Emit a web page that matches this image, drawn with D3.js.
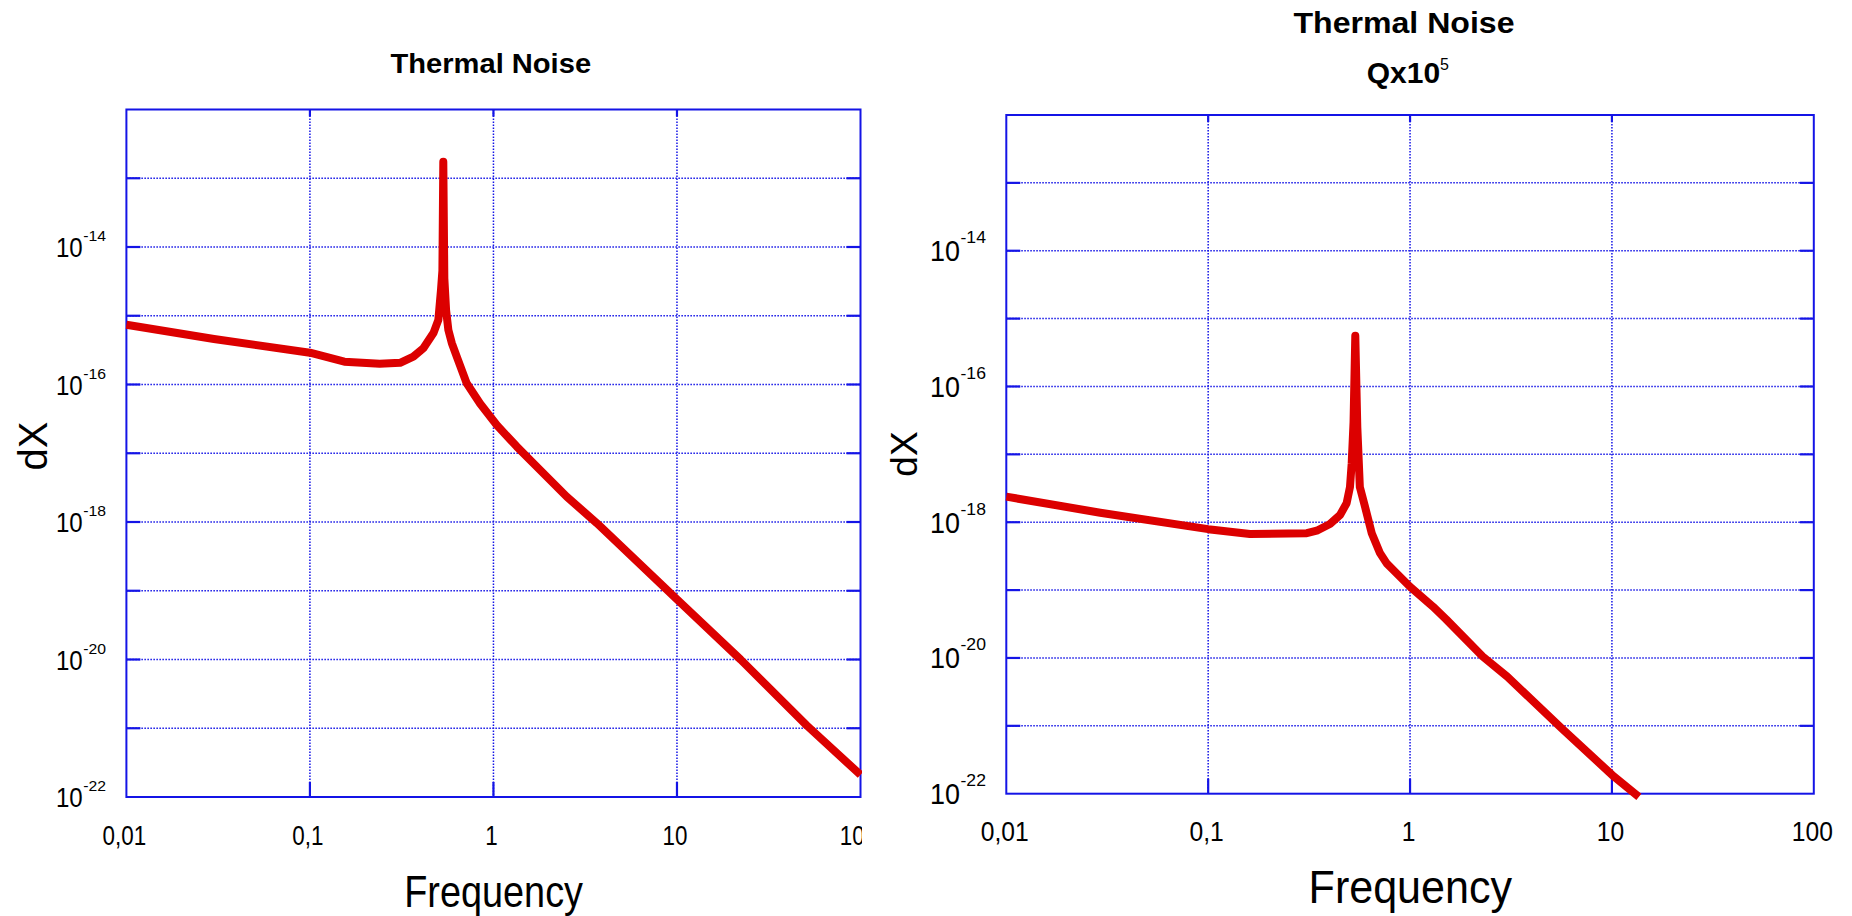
<!DOCTYPE html>
<html>
<head>
<meta charset="utf-8">
<script src="https://cdn.jsdelivr.net/npm/d3@7"></script>
<style>
body { margin: 0; background: #fff; }
svg { display: block; }
</style>
</head>
<body>
<script>
// thermal noise, Q normal (left panel)
var leftFreq = [0.01, 0.03, 0.1, 0.154, 0.24, 0.31, 0.366, 0.415, 0.471, 0.501, 0.518, 0.527, 0.533,
	0.540, 0.552, 0.568, 0.593, 0.631, 0.715, 0.845, 1.042, 1.34, 1.795, 2.51, 3.66, 10, 22.2, 50.9, 100];
var leftDX = [7.4e-16, 4.6e-16, 2.9e-16, 2.15e-16, 2.0e-16, 2.07e-16, 2.54e-16, 3.37e-16, 5.6e-16, 8.7e-16, 2.4e-15, 4.5e-15, 1.74e-13,
	3.5e-15, 1.2e-15, 6.2e-16, 4.0e-16, 2.54e-16, 1.04e-16, 5.3e-17, 2.58e-17, 1.25e-17, 5.7e-18, 2.33e-18, 9.6e-19, 7.5e-20, 1.0e-20, 1.1e-21, 2.1e-22];

// thermal noise, Q x 10^5 (right panel)
var rightFreq = [0.01, 0.0292, 0.1, 0.161, 0.308, 0.345, 0.401, 0.45, 0.485, 0.504, 0.514, 0.525, 0.5355,
	0.548, 0.564, 0.598, 0.646, 0.710, 0.766, 0.826, 1.0, 1.30, 1.51, 2.29, 3.03, 5.64, 10, 13.6];
var rightDX = [2.38e-18, 1.38e-18, 7.9e-19, 6.7e-19, 6.9e-19, 7.5e-19, 9.4e-19, 1.28e-18, 1.9e-18, 3.3e-18, 7.4e-18, 3.0e-17, 5.6e-16,
	2.5e-17, 3.3e-18, 1.7e-18, 6.9e-19, 3.5e-19, 2.48e-19, 1.98e-19, 1.12e-19, 5.7e-20, 3.7e-20, 1.05e-20, 5.3e-21, 9.2e-22, 1.9e-22, 9.0e-23];

var xTickValues = [0.01, 0.1, 1, 10, 100];
var xTickLabels = ["0,01", "0,1", "1", "10", "100"];
var yGridExps = [-22, -21, -20, -19, -18, -17, -16, -15, -14, -13, -12];
var yLabelExps = [-14, -16, -18, -20, -22];

var W = 1852, H = 916;
var FONT = "Liberation Sans, Arial, sans-serif";
var BLUE = "#1414e6";
var RED = "#dc0000";

var svg = d3.select("body").append("svg")
	.attr("width", W)
	.attr("height", H);

function label(g, str, x, y, size, sx, anchor, weight) {
	return g.append("text")
		.attr("transform", "translate(" + x + "," + y + ") scale(" + sx + ",1)")
		.attr("text-anchor", anchor || "middle")
		.attr("font-family", FONT)
		.attr("font-size", size)
		.attr("font-weight", weight || "normal")
		.attr("fill", "#000")
		.text(str);
}

var panels = [
	{
		id: "left", freq: leftFreq, dx: leftDX,
		left: 126.4, right: 860.5, top: 109.5, bottom: 797, clipRight: 862,
		xLab: { size: 27, sx: 0.83, y: 845, shift: -2 },
		yLab: { size: 28, sx: 0.86, gap: 43.7, base: 10.3, supSize: 15, supSx: 1.05, supBase: -6 },
		freqLab: { x: 493.6, y: 906.7, size: 44, sx: 0.86 },
		dxLab: { x: 46.7, y: 446, size: 40 }
	},
	{
		id: "right", freq: rightFreq, dx: rightDX,
		left: 1006.3, right: 1813.8, top: 115, bottom: 793.7, clipRight: W,
		xLab: { size: 28, sx: 0.88, y: 841, shift: -1.5 },
		yLab: { size: 29, sx: 0.93, gap: 46.3, base: 10.5, supSize: 16, supSx: 1.1, supBase: -7.5 },
		freqLab: { x: 1410.3, y: 903, size: 46, sx: 0.936 },
		dxLab: { x: 916.7, y: 454, size: 37 }
	}
];

panels.forEach(function(p) {
	svg.append("clipPath").attr("id", "clip-" + p.id)
		.append("rect").attr("x", 0).attr("y", 0).attr("width", p.clipRight).attr("height", H);

	var g = svg.append("g").attr("clip-path", "url(#clip-" + p.id + ")");

	var x = d3.scaleLog().domain([0.01, 100]).range([p.left, p.right]);
	var y = d3.scaleLog().domain([1e-22, 1e-12]).range([p.bottom, p.top]);

	// dotted grid
	g.selectAll(".vgrid")
		.data(xTickValues.slice(1, -1))
		.enter().append("line")
		.attr("x1", function(d) { return x(d); })
		.attr("x2", function(d) { return x(d); })
		.attr("y1", p.top)
		.attr("y2", p.bottom)
		.attr("stroke", BLUE)
		.attr("stroke-width", 1.5)
		.attr("stroke-dasharray", "1.5,1.5");
	g.selectAll(".hgrid")
		.data(yGridExps.slice(1, -1))
		.enter().append("line")
		.attr("x1", p.left)
		.attr("x2", p.right)
		.attr("y1", function(d) { return y(Math.pow(10, d)); })
		.attr("y2", function(d) { return y(Math.pow(10, d)); })
		.attr("stroke", BLUE)
		.attr("stroke-width", 1.5)
		.attr("stroke-dasharray", "1.5,1.5");

	// inward tick marks
	var tk = g.append("g").attr("stroke", BLUE).attr("stroke-width", 2.2);
	yGridExps.slice(1, -1).forEach(function(e) {
		var yy = y(Math.pow(10, e));
		tk.append("line").attr("x1", p.left).attr("x2", p.left + 14).attr("y1", yy).attr("y2", yy);
		tk.append("line").attr("x1", p.right - 14).attr("x2", p.right).attr("y1", yy).attr("y2", yy);
	});
	xTickValues.slice(1, -1).forEach(function(v) {
		var xx = x(v);
		tk.append("line").attr("x1", xx).attr("x2", xx).attr("y1", p.bottom - 15).attr("y2", p.bottom);
		tk.append("line").attr("x1", xx).attr("x2", xx).attr("y1", p.top).attr("y2", p.top + 7);
	});

	// frame
	g.append("rect")
		.attr("x", p.left)
		.attr("y", p.top)
		.attr("width", p.right - p.left)
		.attr("height", p.bottom - p.top)
		.attr("fill", "none")
		.attr("stroke", BLUE)
		.attr("stroke-width", 2);

	// the curve
	var pts = p.freq.map(function(f, i) { return [f, p.dx[i]]; });
	var line = d3.line()
		.x(function(d) { return x(d[0]); })
		.y(function(d) { return y(d[1]); });
	g.append("path")
		.datum(pts)
		.attr("d", line)
		.attr("fill", "none")
		.attr("stroke", RED)
		.attr("stroke-width", 8)
		.attr("stroke-linejoin", "round");

	// x tick labels
	xTickValues.forEach(function(v, i) {
		label(g, xTickLabels[i], x(v) + p.xLab.shift, p.xLab.y, p.xLab.size, p.xLab.sx, "middle");
	});

	// y tick labels 10^n
	yLabelExps.forEach(function(e) {
		var yy = y(Math.pow(10, e));
		label(g, "10", p.left - p.yLab.gap, yy + p.yLab.base, p.yLab.size, p.yLab.sx, "end");
		label(g, "-" + Math.abs(e), p.left - p.yLab.gap + 0.5, yy + p.yLab.supBase, p.yLab.supSize, p.yLab.supSx, "start");
	});

	// axis titles
	label(g, "Frequency", p.freqLab.x, p.freqLab.y, p.freqLab.size, p.freqLab.sx, "middle");
	g.append("text")
		.attr("transform", "translate(" + p.dxLab.x + "," + p.dxLab.y + ") rotate(-90)")
		.attr("text-anchor", "middle")
		.attr("font-family", FONT)
		.attr("font-size", p.dxLab.size)
		.text("dX");
});

// plot titles
label(svg, "Thermal Noise", 490.8, 73.3, 28, 1.04, "middle", "bold");
label(svg, "Thermal Noise", 1404, 33.3, 30, 1.07, "middle", "bold");
var q = svg.append("text")
	.attr("x", 1366.7)
	.attr("y", 83.3)
	.attr("font-family", FONT)
	.attr("font-size", 30)
	.attr("font-weight", "bold");
q.append("tspan").text("Qx10");
q.append("tspan").attr("dy", -13.5).attr("font-size", 16).attr("font-weight", "normal").text("5");
</script>
</body>
</html>
